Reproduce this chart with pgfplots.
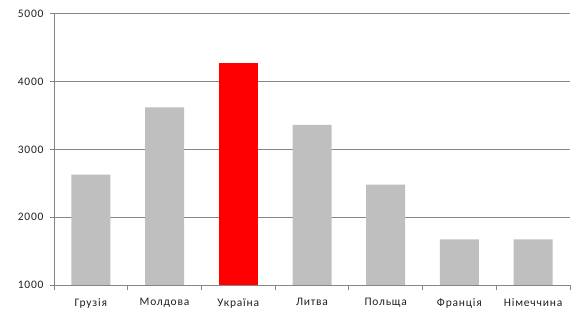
\documentclass[border=0pt]{standalone}
\usepackage{fontspec}
\setmainfont{Carlito}[LetterSpace=7]
\usepackage{pgfplots}
\pgfplotsset{compat=1.18}
\definecolor{bargray}{HTML}{BFBFBF}
\definecolor{gridgray}{HTML}{868686}
\definecolor{txt}{HTML}{202020}
\begin{document}
\begin{tikzpicture}
\useasboundingbox (-54bp,-28bp) rectangle (523bp,285bp);
\begin{axis}[
  at={(0,0)}, anchor=south west,
  scale only axis, width=516bp, height=271bp,
  xmin=-0.5, xmax=6.5, ymin=1000, ymax=5000,
  axis x line*=bottom, axis y line*=left,
  axis line style={gridgray, line width=1bp, -},
  xtick={0,...,6},
  xticklabels={Грузія,Молдова,Україна,Литва,Польща,Франція,Німеччина},
  minor xtick={-0.5,0.5,...,6.5},
  ytick={1000,2000,3000,4000,5000},
  ymajorgrids, grid style={gridgray, line width=1bp},
  tick align=outside,
  major tick length=4bp, minor tick length=5bp,
  x tick style={draw=none},
  minor x tick style={draw=gridgray, line width=1bp},
  y tick style={gridgray, line width=1bp},
  tick label style={font=\fontsize{11.5bp}{13bp}\selectfont, text=txt},
  /pgf/number format/assume math mode=true,
  /pgf/number format/1000 sep={},
  yticklabel style={xshift=-3bp},
  xticklabel style={yshift=-6bp},
  ybar, bar width=39bp,
]
\addplot[fill=bargray, draw=none, bar shift=0pt] coordinates {(0,2630) (1,3620) (3,3365) (4,2480) (5,1672) (6,1672)};
\addplot[fill=red, draw=none, bar shift=0pt] coordinates {(2,4270)};
\end{axis}
\end{tikzpicture}
\end{document}
